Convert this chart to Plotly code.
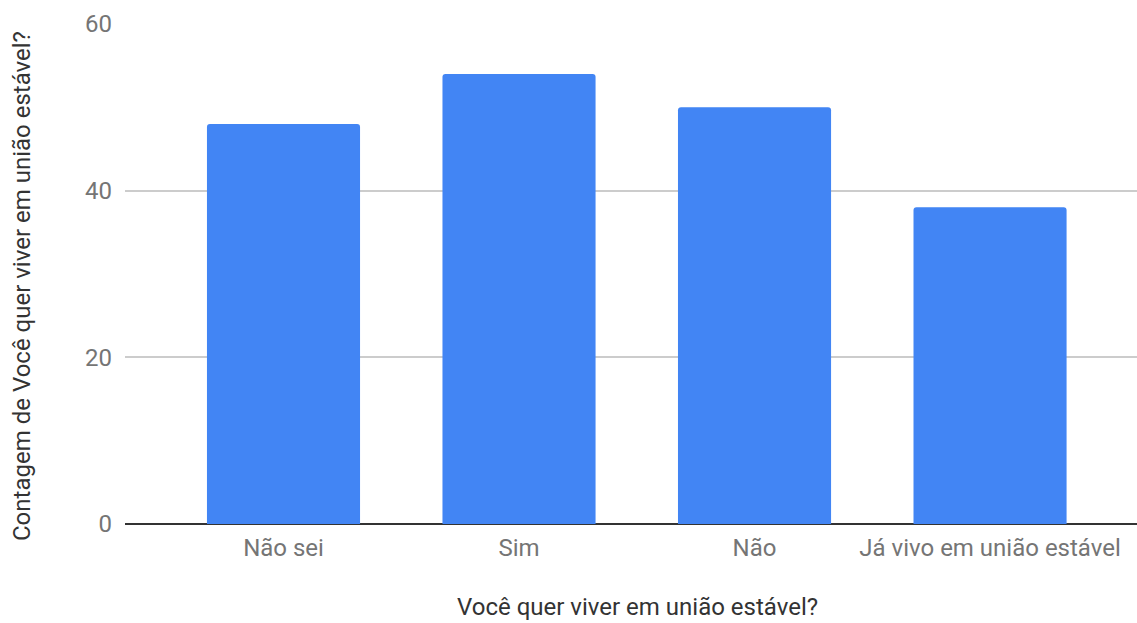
import plotly.graph_objects as go

# Respostas e contagens
categorias = ["Não sei", "Sim", "Não", "Já vivo em união estável"]
contagens = [48, 54, 50, 38]
marcas_y = [0, 20, 40, 60]

titulo_x = "Você quer viver em união estável?"
titulo_y = "Contagem de Você quer viver em união estável?"

fig = go.Figure(
    go.Bar(
        x=list(range(len(categorias))),
        y=contagens,
        width=0.65,
        marker=dict(color="#4285F4", line=dict(width=0), cornerradius=3),
        hoverinfo="skip",
    )
)

fig.update_layout(
    width=1137,
    height=623,
    margin=dict(l=125, r=0, t=24, b=99),
    plot_bgcolor="white",
    paper_bgcolor="white",
    showlegend=False,
    font=dict(family="Roboto", size=24, color="#757575"),
    xaxis=dict(
        range=[-0.673, 3.624],
        tickmode="array",
        tickvals=list(range(len(categorias))),
        ticktext=categorias,
        showgrid=False,
        zeroline=False,
        showline=False,
        ticks="",
        ticklen=0,
        ticklabelstandoff=7,
        tickfont=dict(size=24, color="#757575"),
    ),
    yaxis=dict(
        range=[0, 60],
        tickmode="array",
        tickvals=marcas_y,
        showgrid=True,
        gridcolor="#CCCCCC",
        gridwidth=2,
        zeroline=True,
        zerolinecolor="#333333",
        zerolinewidth=2,
        showline=False,
        ticks="",
        ticklabelstandoff=12,
        tickfont=dict(size=24, color="#757575"),
    ),
    annotations=[
        dict(
            text=titulo_x,
            xref="paper", yref="paper",
            x=(637 - 125) / 1012, y=0,
            yshift=-83,
            xanchor="center", yanchor="middle",
            showarrow=False,
            font=dict(size=24, color="#333333"),
        ),
        dict(
            text=titulo_y,
            xref="paper", yref="paper",
            x=0, y=(524 - 286) / 500,
            xshift=-103,
            xanchor="center", yanchor="middle",
            textangle=-90,
            showarrow=False,
            font=dict(size=24, color="#333333"),
        ),
    ],
)

fig.write_html("out.html")
